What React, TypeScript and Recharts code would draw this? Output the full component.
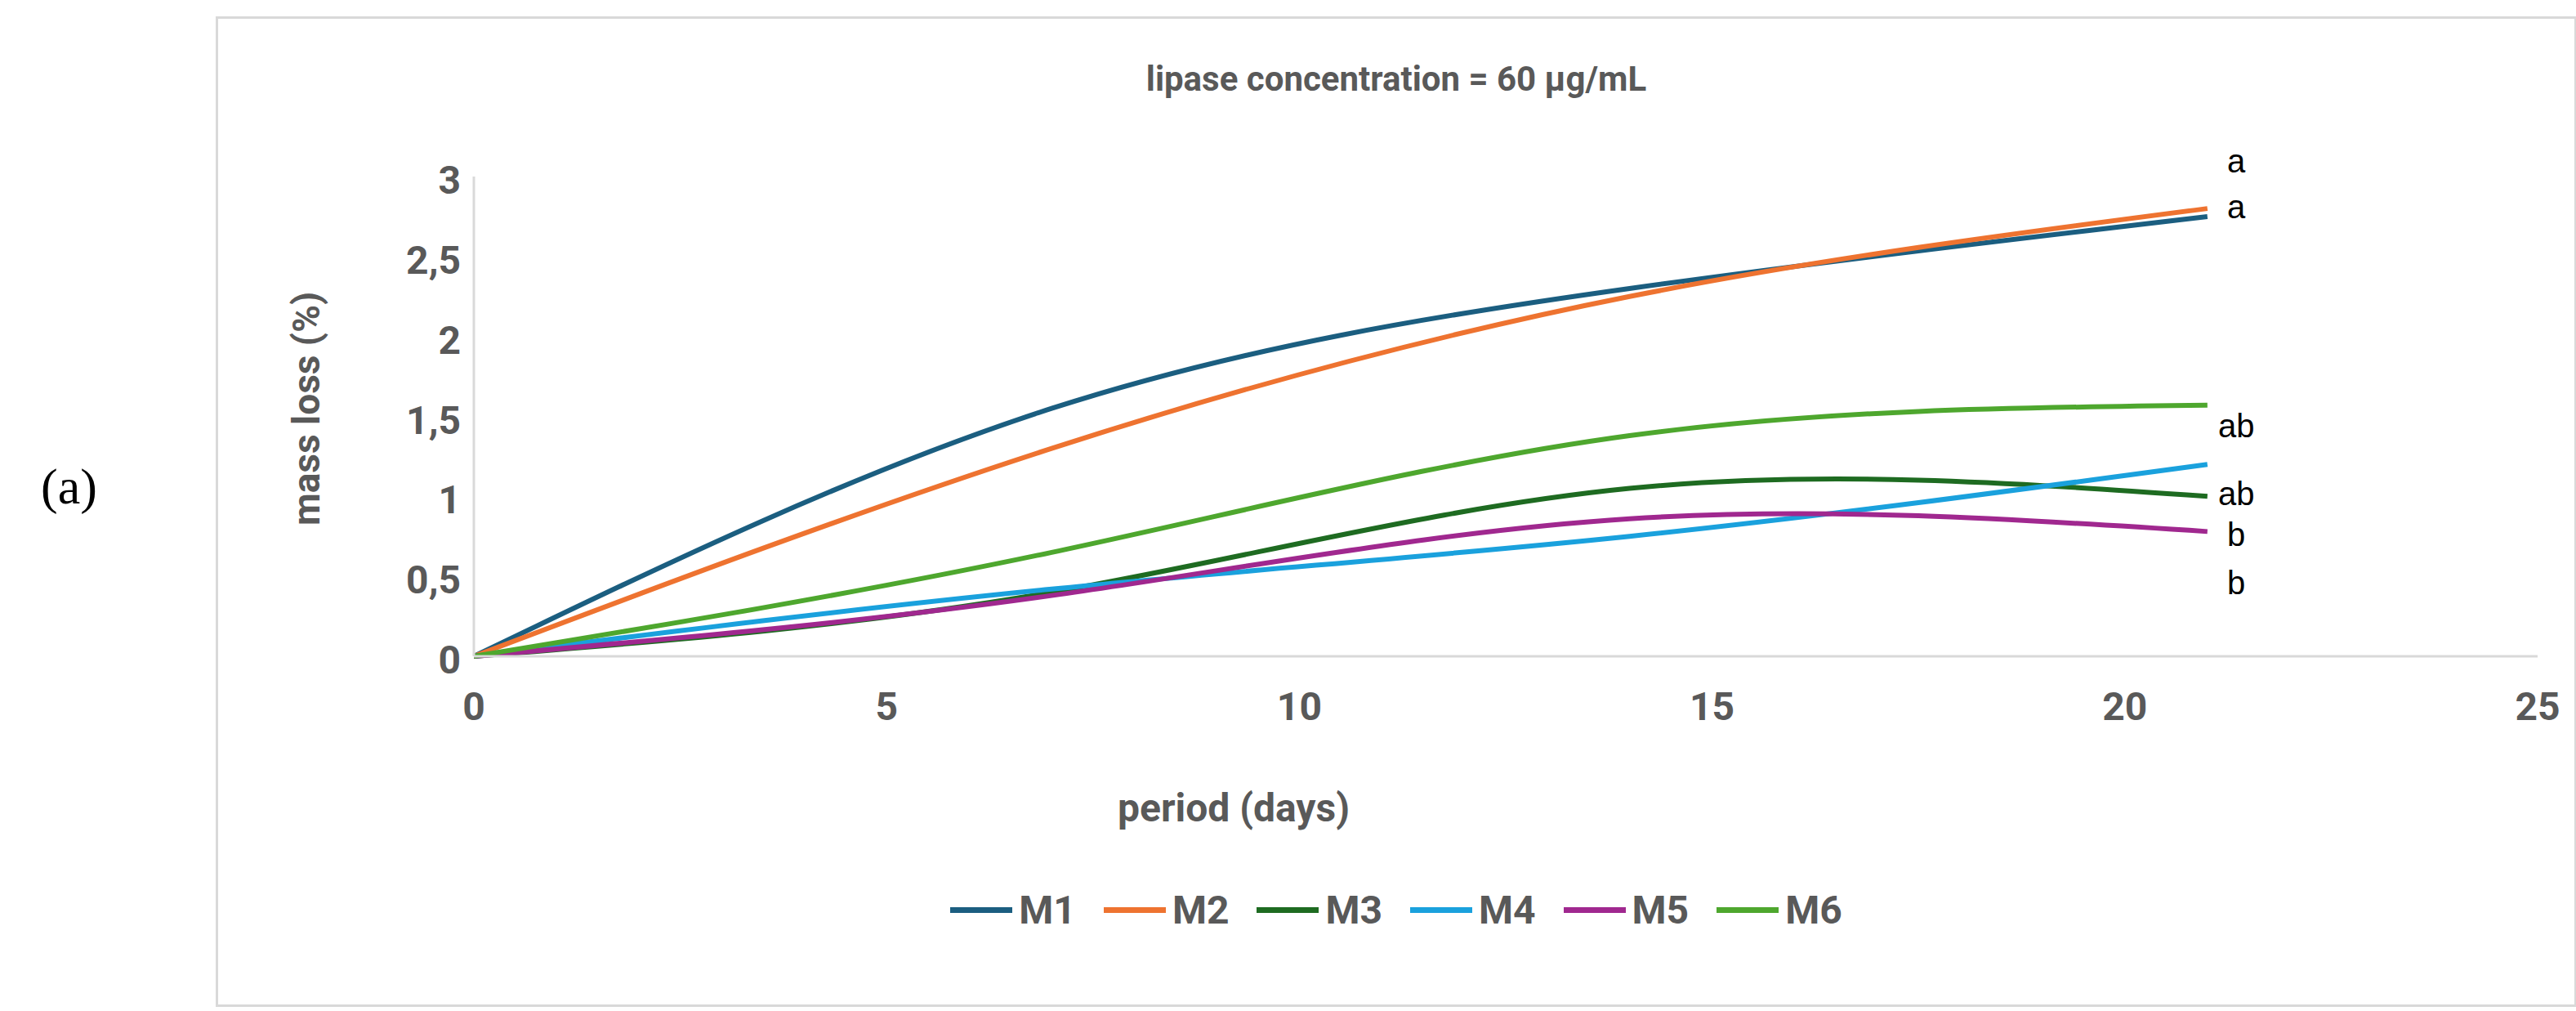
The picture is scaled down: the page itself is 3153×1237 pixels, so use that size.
import React from 'react';
import { LineChart, Line, XAxis, YAxis, ReferenceDot } from 'recharts';

const days = [0, 7, 14, 21];
const m1 = [0, 1.55, 2.3, 2.75];
const m2 = [0, 1.3, 2.25, 2.8];
const m3 = [0, 0.4, 1.05, 1.0];
const m4 = [0, 0.42, 0.75, 1.2];
const m5 = [0, 0.38, 0.86, 0.78];
const m6 = [0, 0.65, 1.38, 1.57];
const xTicks = [0, 5, 10, 15, 20, 25];
const yTicks = [0, 0.5, 1, 1.5, 2, 2.5, 3];
const letters = [
  { y: 3.1, t: 'a' },
  { y: 2.81, t: 'a' },
  { y: 1.44, t: 'ab' },
  { y: 1.02, t: 'ab' },
  { y: 0.76, t: 'b' },
  { y: 0.46, t: 'b' },
];

const series = [
  { key: 'M1', color: '#1b5e80' },
  { key: 'M2', color: '#ee7330' },
  { key: 'M3', color: '#1e6b21' },
  { key: 'M4', color: '#1aa1dd' },
  { key: 'M5', color: '#a0288f' },
  { key: 'M6', color: '#4ea72e' },
];

const data = days.map((d, i) => ({ day: d, M1: m1[i], M2: m2[i], M3: m3[i], M4: m4[i], M5: m5[i], M6: m6[i] }));

const font = '"Liberation Sans Narrow", "Roboto", sans-serif';
const grey = '#595959';

const App: React.FC = () => {
  return (
    <div style={{ position: 'absolute', left: 0, top: 0, width: 3153, height: 1237, background: '#fff', fontFamily: font }}>
      <div style={{ position: 'absolute', left: 264, top: 20, width: 2884, height: 1206, border: '3px solid #d9d9d9' }} />
      <div style={{ position: 'absolute', left: 50, top: 560, fontFamily: '"Liberation Serif", serif', fontSize: 62 }}>(a)</div>
      <div style={{ position: 'absolute', left: 264, width: 2890, top: 72, textAlign: 'center', paddingRight: 15, fontSize: 42, fontWeight: 'bold', color: grey }}>
        lipase concentration = 60 μg/mL
      </div>
      <div style={{ position: 'absolute', left: 375, top: 500, transform: 'translate(-50%, -50%) rotate(-90deg)', fontSize: 46, fontWeight: 'bold', color: grey, whiteSpace: 'nowrap' }}>
        mass loss (%)
      </div>
      <div style={{ position: 'absolute', left: 1010, width: 1000, top: 960, textAlign: 'center', fontSize: 48, fontWeight: 'bold', color: grey }}>
        period (days)
      </div>
      <LineChart width={3153} height={1237} data={data} margin={{ top: 216, right: 47, left: 480, bottom: 334 }} style={{ position: 'absolute', left: 0, top: 0 }}>
        <XAxis dataKey="day" type="number" domain={[0, 25]} ticks={xTicks} height={100} axisLine={{ stroke: '#d9d9d9', strokeWidth: 3 }} tickLine={false}
          tick={{ fontSize: 48, fontWeight: 'bold', fill: grey, fontFamily: font, dy: 36 }} />
        <YAxis type="number" domain={[0, 3]} ticks={yTicks} width={100} axisLine={{ stroke: '#d9d9d9', strokeWidth: 3 }} tickLine={false}
          tickFormatter={(v: number) => String(v).replace('.', ',')}
          tick={{ fontSize: 48, fontWeight: 'bold', fill: grey, fontFamily: font, dx: -8, dy: 4 }} />
        {series.map(s => (
          <Line key={s.key} type="natural" dataKey={s.key} stroke={s.color} strokeWidth={6} dot={false} isAnimationActive={false} />
        ))}
        {letters.map((l, i) => (
          <ReferenceDot key={i} x={21.35} y={l.y} r={0} stroke="none" fill="none" ifOverflow="visible"
            label={{ value: l.t, position: 'center', fontSize: 40, fill: '#000', fontFamily: '"Liberation Sans", sans-serif' }} />
        ))}
      </LineChart>
      <div style={{ position: 'absolute', left: 264, width: 2890, top: 1085, display: 'flex', justifyContent: 'center', paddingRight: 15, gap: 34, fontSize: 48, fontWeight: 'bold', color: grey }}>
        {series.map(s => (
          <div key={s.key} style={{ display: 'flex', alignItems: 'center', gap: 8 }}>
            <div style={{ width: 76, height: 7, background: s.color }} />
            <span>{s.key}</span>
          </div>
        ))}
      </div>
    </div>
  );
};

export default App;
